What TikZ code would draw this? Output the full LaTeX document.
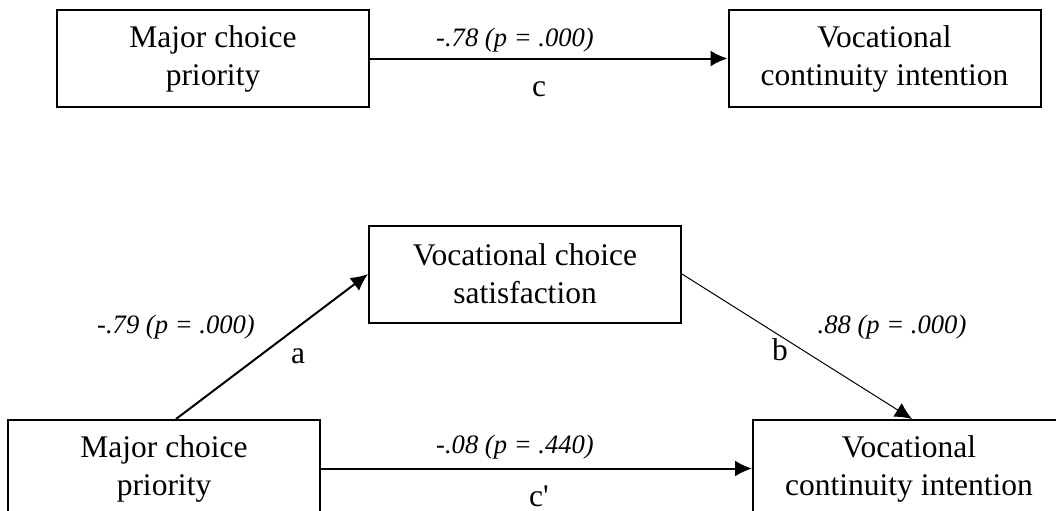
\documentclass[tikz,border=0pt]{standalone}
\usepackage{fontspec}
\setmainfont{Liberation Serif}
\usetikzlibrary{arrows.meta,calc}
\tikzset{
  var/.style={draw, line width=1pt, minimum width=156pt, minimum height=48.5pt, align=center, inner sep=0pt, font=\fontsize{15.75}{19}\selectfont},
  coef/.style={font=\fontsize{13.3}{16}\selectfont\itshape, inner sep=0pt},
  path/.style={line width=1pt, -{Latex[length=8.5pt,width=8pt]}},
  lbl/.style={font=\fontsize{15.75}{19}\selectfont, inner sep=0pt}
}

\begin{document}
\begin{tikzpicture}[x=0.5pt,y=-0.5pt]
			%%%%% START %%%%%
			\useasboundingbox (0,0) rectangle (1056,510);
			\clip (0,0) rectangle (1056,510);
			
			\node[var] (mcpa) at (213,58.5) {Major choice\\priority};
			\node[var] (vcia) at (884.5,58.5) {Vocational\\continuity intention};
			\draw[path] (mcpa) -- (vcia);
			\node[coef] (ctot) at (515,40) {-.78 (p = .000)};
			\node[lbl] (c) at (539,89) {c};
			
			\node[var] (vcs) at (525,274) {Vocational choice\\satisfaction};
			\node[var] (mcpb) at (164,468.5) {Major choice\\priority};
			\node[var] (vcib) at (909,468.5) {Vocational\\continuity intention};
			
			\draw[path] ($(mcpb.north)+(12,0)$) -- (vcs.west);
			\draw[path, line width=0.5pt] (vcs.east) -- ($(vcib.north)+(3,0)$);
			\draw[path] (mcpb) -- (vcib);
			
			\node[coef] (ca) at (176,327) {-.79 (p = .000)};
			\node[lbl] (a) at (298,356) {a};
			\node[coef] (cb) at (892,327) {.88 (p = .000)};
			\node[lbl] (b) at (780,350) {b};
			\node[coef] (cdir) at (515,447) {-.08 (p = .440)};
			\node[lbl] (cp) at (539,496) {c\textquotesingle};
			%%%%% END %%%%%
\end{tikzpicture}
\end{document}
